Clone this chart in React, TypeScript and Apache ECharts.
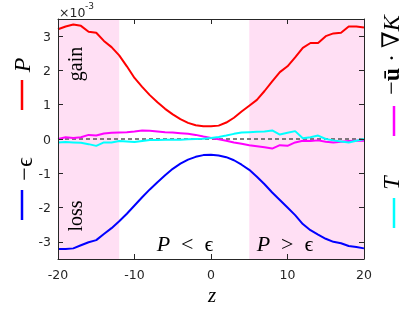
import React, { useEffect, useRef } from "react";
import * as echarts from "echarts";

// z positions
const zs = [-20, -19, -18, -17, -16, -15, -14, -13, -12, -11, -10, -9, -8, -7, -6, -5, -4, -3, -2, -1, 0, 1, 2, 3, 4, 5, 6, 7, 8, 9, 10, 11, 12, 13, 14, 15, 16, 17, 18, 19, 20];
// values in units of 1e-3
const gainP = [3.2, 3.28, 3.34, 3.3, 3.13, 3.1, 2.86, 2.68, 2.44, 2.12, 1.78, 1.52, 1.28, 1.07, 0.88, 0.72, 0.58, 0.47, 0.4, 0.37, 0.37, 0.39, 0.48, 0.62, 0.8, 0.97, 1.14, 1.4, 1.68, 1.95, 2.12, 2.38, 2.66, 2.8, 2.8, 3.0, 3.08, 3.1, 3.28, 3.28, 3.25];
const lossEps = [-3.21, -3.21, -3.19, -3.1, -3.01, -2.95, -2.77, -2.6, -2.4, -2.18, -1.94, -1.7, -1.47, -1.26, -1.06, -0.87, -0.72, -0.6, -0.52, -0.47, -0.46, -0.48, -0.53, -0.62, -0.75, -0.9, -1.1, -1.32, -1.56, -1.78, -2.0, -2.22, -2.48, -2.66, -2.79, -2.91, -3.0, -3.04, -3.12, -3.15, -3.19];
const advK = [0.0, 0.05, 0.03, 0.05, 0.12, 0.1, 0.16, 0.18, 0.19, 0.2, 0.22, 0.25, 0.24, 0.22, 0.2, 0.19, 0.17, 0.15, 0.12, 0.07, 0.03, -0.01, -0.05, -0.1, -0.14, -0.18, -0.21, -0.24, -0.28, -0.18, -0.2, -0.1, -0.05, -0.06, -0.04, -0.08, -0.1, -0.08, -0.06, -0.05, -0.05];
const transT = [-0.1, -0.09, -0.1, -0.11, -0.15, -0.2, -0.1, -0.1, -0.06, -0.07, -0.09, -0.06, -0.03, -0.03, -0.02, -0.02, -0.02, -0.01, 0.0, 0.01, 0.03, 0.06, 0.1, 0.15, 0.19, 0.2, 0.21, 0.22, 0.25, 0.13, 0.18, 0.23, 0.02, 0.05, 0.1, 0.0, -0.04, -0.07, -0.1, -0.05, 0.0];

const shadeRanges = [[-20, -12], [5, 20]];
const yTicks = [-3, -2, -1, 0, 1, 2, 3];
const xRange = [-20, 20];
const yRange = [-3.5, 3.5];

const AXIS = "#262626";
const SERIF = "'Liberation Serif', 'DejaVu Serif', serif";
const SANS = "'DejaVu Sans', sans-serif";

export default function App() {
  const ref = useRef<HTMLDivElement>(null);
  useEffect(() => {
    if (!ref.current) return;
    const chart = echarts.init(ref.current, undefined, { renderer: "svg" });
    const mk = (vals: number[]) => zs.map((z, i) => [z, vals[i]]);
    const lineSeries = (vals: number[], color: string) => ({
      type: "line",
      data: mk(vals),
      showSymbol: false,
      symbol: "none",
      z: 4,
      lineStyle: { color, width: 2 },
      silent: true,
    });
    const axisCommon = {
      type: "value",
      axisLine: { show: true, onZero: false, lineStyle: { color: AXIS, width: 1 } },
      splitLine: { show: false },
      z: 10,
    };
    const richRel = {
      i: { fontFamily: SERIF, fontSize: 22, fontStyle: "italic", fill: "#000" },
      n: { fontFamily: SERIF, fontSize: 22, fill: "#000" },
    };
    chart.setOption({
      animation: false,
      grid: { left: 58, right: 51, top: 19, bottom: 53 },
      xAxis: [
        {
          ...axisCommon,
          position: "bottom",
          min: xRange[0],
          max: xRange[1],
          interval: 10,
          axisTick: { inside: true, length: 5, lineStyle: { color: AXIS } },
          axisLabel: { color: AXIS, fontFamily: SANS, fontSize: 12.5, margin: 9 },
        },
        {
          ...axisCommon,
          position: "top",
          min: xRange[0],
          max: xRange[1],
          interval: 10,
          axisTick: { inside: true, length: 5, lineStyle: { color: AXIS } },
          axisLabel: { show: false },
        },
      ],
      yAxis: [
        {
          ...axisCommon,
          position: "left",
          min: yRange[0],
          max: yRange[1],
          axisTick: { inside: true, length: 5, customValues: yTicks, lineStyle: { color: AXIS } },
          axisLabel: { color: AXIS, fontFamily: SANS, fontSize: 12.5, margin: 7, customValues: yTicks },
        },
        {
          ...axisCommon,
          position: "right",
          min: yRange[0],
          max: yRange[1],
          axisTick: { inside: true, length: 5, customValues: yTicks, lineStyle: { color: AXIS } },
          axisLabel: { show: false },
        },
      ],
      series: [
        {
          type: "line",
          data: [[xRange[0], 0], [xRange[1], 0]],
          showSymbol: false,
          symbol: "none",
          z: 1,
          silent: true,
          lineStyle: { color: "#555555", width: 1, type: [4, 3] },
          markArea: {
            silent: true,
            itemStyle: { color: "#ffdff4" },
            data: shadeRanges.map((r) => [{ xAxis: r[0] }, { xAxis: r[1] }]),
          },
        },
        {
          type: "line",
          data: [[xRange[0], 0], [xRange[1], 0]],
          showSymbol: false,
          symbol: "none",
          z: 3,
          silent: true,
          lineStyle: { color: "#555555", width: 1, type: [4, 3] },
        },
        lineSeries(advK, "#ff00ff"),
        lineSeries(transT, "#00ffff"),
        lineSeries(gainP, "#ff0000"),
        lineSeries(lossEps, "#0000ff"),
      ],
      graphic: [
        { type: "text", z: 100, left: 59, top: 6, style: { text: "×10", fill: AXIS, font: `12.5px ${SANS}` } },
        { type: "text", z: 100, left: 85, top: 1, style: { text: "-3", fill: AXIS, font: `9px ${SANS}` } },
        // left labels
        { type: "text", z: 100, x: 22, y: 65, rotation: Math.PI / 2, style: { text: "P", fill: "#000", font: `italic 24px ${SERIF}`, textAlign: "center", textVerticalAlign: "middle" } },
        { type: "line", z: 100, shape: { x1: 22, y1: 80, x2: 22, y2: 110 }, style: { stroke: "#ff0000", lineWidth: 2.5 } },
        { type: "text", z: 100, x: 24, y: 169, rotation: Math.PI / 2, style: { text: "−ϵ", fill: "#000", font: `24px ${SERIF}`, textAlign: "center", textVerticalAlign: "middle" } },
        { type: "line", z: 100, shape: { x1: 22, y1: 190, x2: 22, y2: 220 }, style: { stroke: "#0000ff", lineWidth: 2.5 } },
        // right labels
        {
          type: "text", z: 100, x: 391, y: 55, rotation: Math.PI / 2,
          style: {
            text: "{n|−}{b|ū}{n| · ∇}{i|K}",
            fill: "#000", textAlign: "center", textVerticalAlign: "middle",
            rich: {
              n: { fontFamily: SERIF, fontSize: 24, fill: "#000" },
              b: { fontFamily: SERIF, fontSize: 24, fontWeight: "bold", fill: "#000" },
              i: { fontFamily: SERIF, fontSize: 24, fontStyle: "italic", fill: "#000" },
            },
          },
        },
        { type: "line", z: 100, shape: { x1: 394, y1: 106, x2: 394, y2: 136 }, style: { stroke: "#ff00ff", lineWidth: 2.5 } },
        { type: "text", z: 100, x: 391, y: 183, rotation: Math.PI / 2, style: { text: "T", fill: "#000", font: `italic 24px ${SERIF}`, textAlign: "center", textVerticalAlign: "middle" } },
        { type: "line", z: 100, shape: { x1: 394, y1: 198, x2: 394, y2: 228 }, style: { stroke: "#00ffff", lineWidth: 2.5 } },
        // annotations
        { type: "text", z: 100, x: 75, y: 64, rotation: Math.PI / 2, style: { text: "gain", fill: "#000", font: `20px ${SERIF}`, textAlign: "center", textVerticalAlign: "middle" } },
        { type: "text", z: 100, x: 75, y: 216, rotation: Math.PI / 2, style: { text: "loss", fill: "#000", font: `20px ${SERIF}`, textAlign: "center", textVerticalAlign: "middle" } },
        {
          type: "text", z: 100, x: 185, y: 243,
          style: { text: "{i|P}{n|\u2002<\u2002ϵ}", textAlign: "center", textVerticalAlign: "middle", rich: richRel },
        },
        {
          type: "text", z: 100, x: 285, y: 243,
          style: { text: "{i|P}{n|\u2002>\u2002ϵ}", textAlign: "center", textVerticalAlign: "middle", rich: richRel },
        },
        { type: "text", z: 100, x: 212, y: 295, style: { text: "z", fill: "#000", font: `italic 21px ${SERIF}`, textAlign: "center", textVerticalAlign: "middle" } },
      ],
    });
    return () => chart.dispose();
  }, []);
  return <div ref={ref} style={{ position: "fixed", left: 0, top: 0, width: 415, height: 312 }} />;
}
